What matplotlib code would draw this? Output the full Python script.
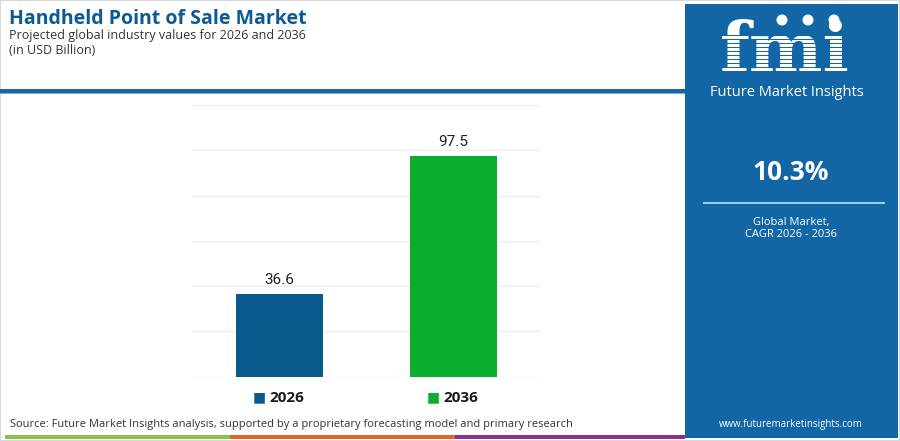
"""Handheld Point of Sale Market: projected values for 2026 and 2036."""

import matplotlib

matplotlib.use("Agg")

import matplotlib.pyplot as plt
from matplotlib.patches import Rectangle, Ellipse

years = ["2026", "2036"]
values = [36.6, 97.5]
bar_colors = ["#0b5a8e", "#0aad2d"]
y_ticks = [0, 20, 40, 60, 80, 100, 120]

cagr = "10.3%"
title = "Handheld Point of Sale Market"
subtitle = "Projected global industry values for 2026 and 2036"
unit_note = "(in USD Billion)"
source = ("Source: Future Market Insights analysis, supported by a proprietary "
          "forecasting model and primary research")

PANEL_BLUE = "#1266a6"
TITLE_BLUE = "#0b5a96"
FONT = ["Open Sans", "DejaVu Sans"]

plt.rcParams["font.family"] = FONT

W, H = 900, 441
fig = plt.figure(figsize=(W / 100, H / 100), dpi=100)


def px(x, y):
    """Pixel coords (top-left origin) -> figure fraction."""
    return x / W, 1 - y / H


def band(x0, y_bottom, w, h, color, z=1):
    fig.add_artist(Rectangle(px(x0, y_bottom), w / W, h / H, transform=fig.transFigure,
                             color=color, linewidth=0, zorder=z))


# frame and header rule
fig.add_artist(Rectangle((0, 0), 1, 1, transform=fig.transFigure,
                         fill=False, edgecolor="#d8d8d8", linewidth=1.5))
band(0, 93, 685, 4, "#1a65a5")
band(0, 94, 685, 1.2, "#6fb0e0")

# bottom colour stripe
for x0, x1, c in [(5, 230, "#8cc04a"), (230, 455, "#e8602c"), (455, 685, "#8e2e8e")]:
    band(x0, 439, x1 - x0, 4, c)

# header text
fig.text(*px(9, 19), title, fontsize=14, fontweight="bold", color=TITLE_BLUE,
         va="center", ha="left")
fig.text(*px(9, 35), subtitle, fontsize=9, color="#333333", va="center", ha="left")
fig.text(*px(9, 51), unit_note, fontsize=9, color="#333333", va="center", ha="left")
fig.text(*px(10, 425), source, fontsize=8, color="#333333", va="center", ha="left")

# right panel
band(685, 438, 213, 434, PANEL_BLUE)
fig.text(*px(785, 52), "fmi", fontsize=50, fontweight="bold", color="white",
         family="DejaVu Serif", ha="center", va="center", zorder=2)
for yy in range(36, 80, 4):
    band(715, yy, 145, 1.3, PANEL_BLUE, z=3)
for cx in (782, 808, 834):
    fig.add_artist(Ellipse(px(cx, 20), 11 / W, 11 / H, transform=fig.transFigure,
                           color="white", linewidth=0, zorder=4))
fig.text(*px(787, 93), "Future Market Insights", fontsize=10.5, color="white",
         ha="center", va="center")
fig.text(*px(791, 172), cagr, fontsize=19, fontweight="bold", color="white",
         ha="center", va="center")
fig.add_artist(plt.Line2D([704 / W, 884 / W], [1 - 203 / H] * 2, color="#9cc8ea",
                          linewidth=1.5, transform=fig.transFigure))
fig.text(*px(791, 222), "Global Market,", fontsize=8, color="white",
         ha="center", va="center")
fig.text(*px(791, 234), "CAGR 2026 - 2036", fontsize=8, color="white",
         ha="center", va="center")
fig.text(*px(791, 425), "www.futuremarketinsights.com", fontsize=7, color="white",
         ha="center", va="center")

# bar chart
ax = fig.add_axes([192 / W, 1 - 376.7 / H, 348 / W, (376.7 - 105) / H])
positions = list(range(len(years)))
bars = ax.bar(positions, values, width=0.5, color=bar_colors, zorder=3)
ax.set_xlim(-0.5, 1.5)
ax.set_ylim(y_ticks[0], y_ticks[-1])
ax.set_yticks(y_ticks)
ax.grid(axis="y", color="#eeeeee", linewidth=1, zorder=0)
ax.tick_params(left=False, bottom=False, labelleft=False, labelbottom=False)
for spine in ax.spines.values():
    spine.set_visible(False)
for rect, v in zip(bars, values):
    ax.annotate(f"{v}", (rect.get_x() + rect.get_width() / 2, v),
                xytext=(0, 5), textcoords="offset points", ha="center", va="bottom",
                fontsize=11, color="#222222", family="Roboto")

# category labels with colour keys
for pos, label, c in zip(positions, years, bar_colors):
    ax.annotate(label, (pos, 0), xytext=(6, -15), textcoords="offset points",
                ha="center", va="center", fontsize=11, fontweight="bold",
                color="#1a1a1a", annotation_clip=False)
    ax.annotate("\u25A0", (pos, 0), xytext=(-14, -15), textcoords="offset points",
                ha="center", va="center", fontsize=10, color=c, family="DejaVu Sans",
                annotation_clip=False)

fig.savefig("out.png", dpi=100)
